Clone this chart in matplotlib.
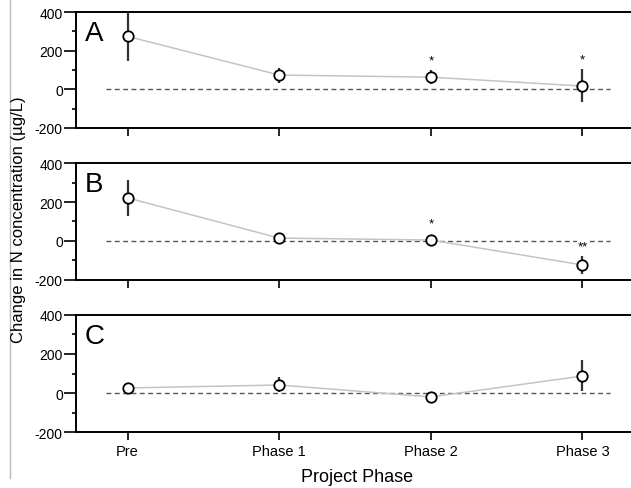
import numpy as np
import matplotlib
matplotlib.use("Agg")
import matplotlib.pyplot as plt
from matplotlib.lines import Line2D

plt.rcParams['font.family'] = ['Liberation Sans', 'DejaVu Sans']
plt.rcParams['axes.unicode_minus'] = False

# Data
phases = ["Pre", "Phase 1", "Phase 2", "Phase 3"]
panel_labels = ["A", "B", "C"]

mean_a = [274, 74, 63, 17]
low_a = [146, 32, 27, -66]
high_a = [430, 110, 100, 105]

mean_b = [221, 15, 5, -123]
low_b = [128, 15, 5, -169]
high_b = [313, 15, 5, -77]

mean_c = [26, 41, -20, 87]
low_c = [26, 5, -20, 10]
high_c = [26, 82, -20, 169]

stars_a = ["", "", "*", "*"]
stars_b = ["", "", "*", "**"]
stars_c = ["", "", "", ""]
star_y_a = [0, 0, 150, 155]
star_y_b = [0, 0, 88, -28]
star_y_c = [0, 0, 0, 0]

means = [mean_a, mean_b, mean_c]
lows = [low_a, low_b, low_c]
highs = [high_a, high_b, high_c]
stars = [stars_a, stars_b, stars_c]
star_ys = [star_y_a, star_y_b, star_y_c]

fig = plt.figure(figsize=(6.31, 4.89), dpi=100)

# panel positions in figure fraction
tops = [0.9734, 0.6646, 0.3538]
bots = [0.7362, 0.4254, 0.1145]
left = 0.1204

x = np.arange(len(phases))
for i in range(3):
    ax = fig.add_axes([left, bots[i], 1.0 - left, tops[i] - bots[i]])
    m = np.array(means[i])
    lo = np.array(lows[i])
    hi = np.array(highs[i])

    # zero reference line
    ax.plot([-0.14, 3.18], [0, 0], color='#555555', lw=1.0, ls=(0, (3.5, 2.5)), zorder=1)
    # connecting line
    ax.plot(x, m, color='#c4c4c4', lw=1.1, zorder=2)
    # error bars
    ax.errorbar(x, m, yerr=[m - lo, hi - m], fmt='none', ecolor='#333333',
                elinewidth=1.6, capsize=0, zorder=3)
    ax.plot(x, m, 'o', ms=7.5, mfc='white', mec='black', mew=1.3, zorder=4)

    for j, s in enumerate(stars[i]):
        if s:
            ax.text(x[j], star_ys[i][j], s, ha='center', va='center', fontsize=9.5,
                    bbox=dict(facecolor='white', edgecolor='none', pad=0.3), zorder=2.5)

    ax.text(-0.28, 290, panel_labels[i], fontsize=20, ha='left', va='center')

    ax.set_xlim(-0.34, 3.32)
    ax.set_ylim(-200, 400)
    ax.set_yticks([-200, 0, 200, 400])
    ax.set_yticks([-100, 100, 300], minor=True)
    ax.set_xticks(x)
    if i == 2:
        ax.set_xticklabels(phases, fontsize=10.5)
    else:
        ax.set_xticklabels([])
    ax.tick_params(axis='y', labelsize=10, length=9, width=1.2, direction='out', pad=0.5)
    ax.tick_params(axis='y', which='minor', length=3, width=1.2)
    ax.tick_params(axis='x', length=5.5, width=1.2, direction='out', pad=3)
    ax.spines['right'].set_visible(False)
    for sp in ['left', 'top', 'bottom']:
        ax.spines[sp].set_linewidth(1.4)

fig.text(0.029, 0.55, "Change in N concentration (\u00b5g/L)", rotation=90,
         ha='center', va='center', fontsize=12)
fig.text(0.566, 0.024, "Project Phase", ha='center', va='center', fontsize=13)

fig.add_artist(Line2D([0.016, 0.016], [0.02, 1.0], color='#bbbbbb', lw=1.0))

fig.savefig("out.png", dpi=100)
